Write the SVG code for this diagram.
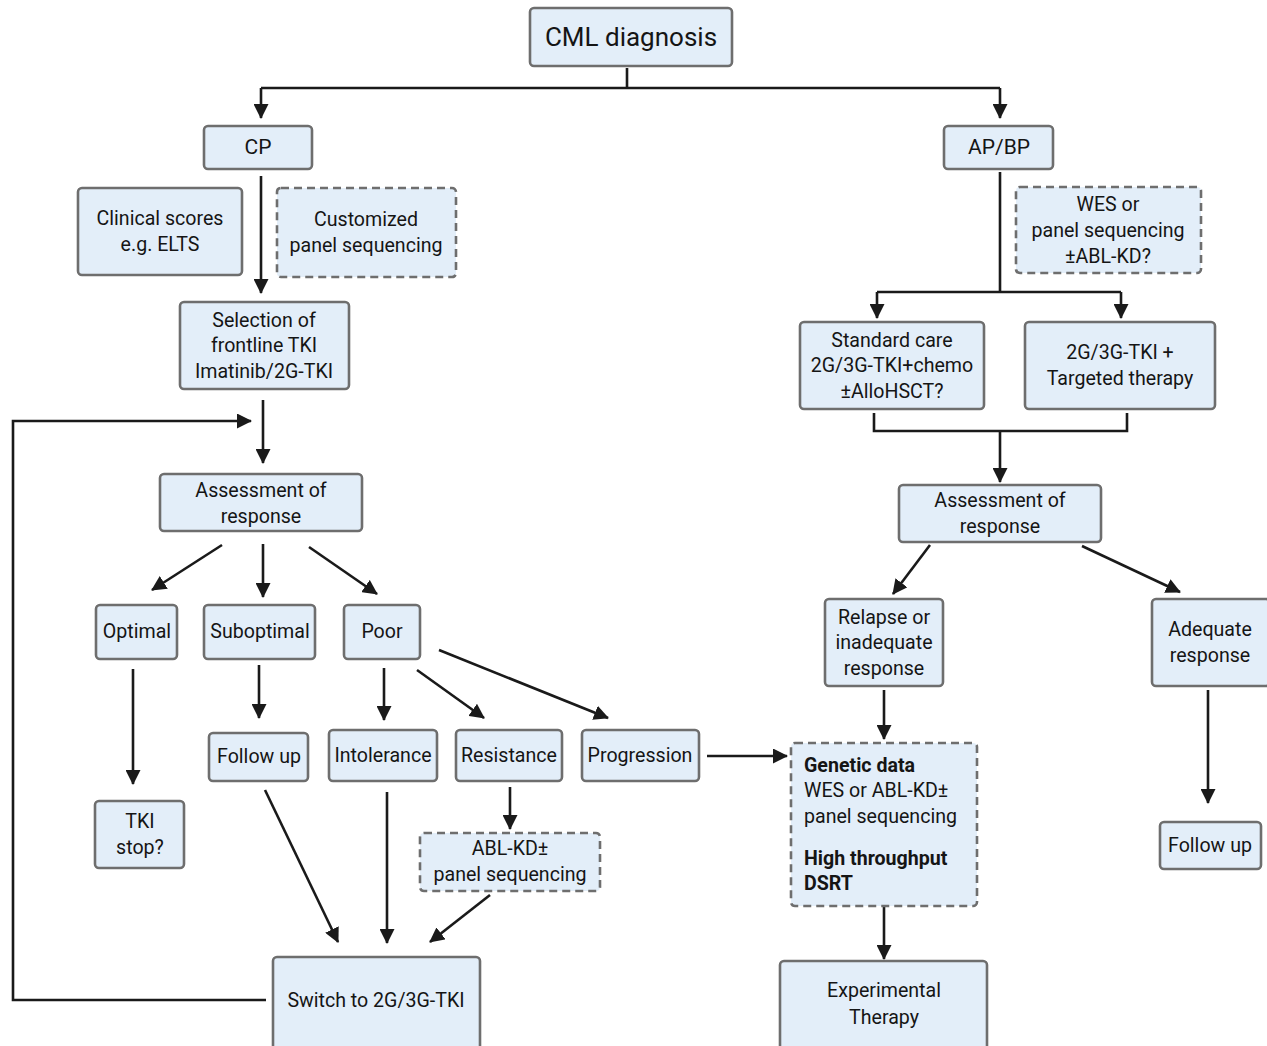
<svg xmlns="http://www.w3.org/2000/svg" width="1267" height="1046" viewBox="0 0 1267 1046">
<defs>
<marker id="ah" markerUnits="userSpaceOnUse" markerWidth="15" markerHeight="15" viewBox="0 0 15 15" refX="14" refY="7.5" orient="auto">
<path d="M0,0 L15,7.5 L0,15 Z" fill="#1a1a1a"/>
</marker>
<style>
.n{fill:#e3eef9;stroke:#6e6e6e;stroke-width:2.6}
.d{fill:#e3eef9;stroke:#6e6e6e;stroke-width:2.6;stroke-dasharray:8 5}
.t{font-family:Roboto,"Liberation Sans",sans-serif;font-size:19.6px;fill:#151515;text-anchor:middle}
.l{font-family:Roboto,"Liberation Sans",sans-serif;font-size:19.6px;fill:#151515}
.b{font-weight:bold}
.c{fill:none;stroke:#1a1a1a;stroke-width:2.6}
.a{fill:none;stroke:#1a1a1a;stroke-width:2.6;marker-end:url(#ah)}
</style>
</defs>
<rect width="1267" height="1046" fill="#ffffff"/>
<g id="connectors">
<path class="c" d="M627,68 V88"/>
<path class="c" d="M261,88 H1000"/>
<path class="a" d="M261,88 V118"/>
<path class="a" d="M1000,88 V118"/>
<path class="a" d="M261,176 V293"/>
<path class="a" d="M263,400 V463"/>
<path class="a" d="M266,1000 H13 V421 H251"/>
<path class="a" d="M222,545 L152,590"/>
<path class="a" d="M263,544 V597"/>
<path class="a" d="M309,547 L377,594"/>
<path class="a" d="M133,669 V784"/>
<path class="a" d="M259,665 V718"/>
<path class="a" d="M384,668 V720"/>
<path class="a" d="M417,670 L484,718"/>
<path class="a" d="M439,650 L608,718"/>
<path class="a" d="M707,756 H787"/>
<path class="a" d="M510,787 V829"/>
<path class="a" d="M265,790 L338,942"/>
<path class="a" d="M387,792 V943"/>
<path class="a" d="M490,895 L430,942"/>
<path class="c" d="M1000,172 V292"/>
<path class="c" d="M877,292 H1121"/>
<path class="a" d="M877,292 V318"/>
<path class="a" d="M1121,292 V318"/>
<path class="c" d="M874,413 V431 H1127 V413"/>
<path class="a" d="M1000,431 V482"/>
<path class="a" d="M930,545 L893,594"/>
<path class="a" d="M1082,546 L1180,592"/>
<path class="a" d="M884,690 V739"/>
<path class="a" d="M884,906 V959"/>
<path class="a" d="M1208,690 V803"/>
</g>
<g id="cml"><rect class="n" x="530" y="8" width="202" height="58" rx="4"/><text class="t" x="631" y="46" style="font-size:26px">CML diagnosis</text></g>
<g id="cp"><rect class="n" x="204" y="126" width="108" height="43" rx="4"/><text class="t" x="258" y="154" style="font-size:21px">CP</text></g>
<g id="apbp"><rect class="n" x="944" y="126" width="109" height="43" rx="4"/><text class="t" x="999" y="154" style="font-size:21px">AP/BP</text></g>
<g id="clinical"><rect class="n" x="78" y="188" width="164" height="87" rx="4"/><text class="t" x="160" y="225">Clinical scores</text><text class="t" x="160" y="251">e.g. ELTS</text></g>
<g id="customized"><rect class="d" x="277" y="188" width="179" height="89" rx="4"/><text class="t" x="366" y="226">Customized</text><text class="t" x="366" y="252">panel sequencing</text></g>
<g id="selection"><rect class="n" x="180" y="302" width="169" height="87" rx="4"/><text class="t" x="264" y="327">Selection of</text><text class="t" x="264" y="352">frontline TKI</text><text class="t" x="264" y="378">Imatinib/2G-TKI</text></g>
<g id="assess-l"><rect class="n" x="160" y="474" width="202" height="57" rx="4"/><text class="t" x="261" y="497">Assessment of</text><text class="t" x="261" y="523">response</text></g>
<g id="optimal"><rect class="n" x="96" y="605" width="81" height="54" rx="4"/><text class="t" x="137" y="638">Optimal</text></g>
<g id="suboptimal"><rect class="n" x="204" y="605" width="111" height="54" rx="4"/><text class="t" x="260" y="638">Suboptimal</text></g>
<g id="poor"><rect class="n" x="344" y="605" width="76" height="54" rx="4"/><text class="t" x="382" y="638">Poor</text></g>
<g id="tkistop"><rect class="n" x="95" y="801" width="89" height="67" rx="4"/><text class="t" x="140" y="828">TKI</text><text class="t" x="140" y="854">stop?</text></g>
<g id="followup-l"><rect class="n" x="209" y="733" width="99" height="48" rx="4"/><text class="t" x="259" y="763">Follow up</text></g>
<g id="intolerance"><rect class="n" x="329" y="730" width="108" height="51" rx="4"/><text class="t" x="383" y="762">Intolerance</text></g>
<g id="resistance"><rect class="n" x="456" y="730" width="106" height="51" rx="4"/><text class="t" x="509" y="762">Resistance</text></g>
<g id="progression"><rect class="n" x="582" y="730" width="117" height="51" rx="4"/><text class="t" x="640" y="762">Progression</text></g>
<g id="ablkd"><rect class="d" x="420" y="833" width="180" height="58" rx="4"/><text class="t" x="510" y="855">ABL-KD±</text><text class="t" x="510" y="881">panel sequencing</text></g>
<g id="switch"><rect class="n" x="273" y="957" width="207" height="95" rx="4"/><text class="t" x="376" y="1007">Switch to 2G/3G-TKI</text></g>
<g id="wes"><rect class="d" x="1016" y="187" width="185" height="86" rx="4"/><text class="t" x="1108" y="211">WES or</text><text class="t" x="1108" y="237">panel sequencing</text><text class="t" x="1108" y="263">±ABL-KD?</text></g>
<g id="standard"><rect class="n" x="800" y="322" width="184" height="87" rx="4"/><text class="t" x="892" y="347">Standard care</text><text class="t" x="892" y="372">2G/3G-TKI+chemo</text><text class="t" x="892" y="398">±AlloHSCT?</text></g>
<g id="targeted"><rect class="n" x="1025" y="322" width="190" height="87" rx="4"/><text class="t" x="1120" y="359">2G/3G-TKI +</text><text class="t" x="1120" y="385">Targeted therapy</text></g>
<g id="assess-r"><rect class="n" x="899" y="485" width="202" height="57" rx="4"/><text class="t" x="1000" y="507">Assessment of</text><text class="t" x="1000" y="533">response</text></g>
<g id="relapse"><rect class="n" x="825" y="599" width="118" height="87" rx="4"/><text class="t" x="884" y="624">Relapse or</text><text class="t" x="884" y="649">inadequate</text><text class="t" x="884" y="675">response</text></g>
<g id="adequate"><rect class="n" x="1152" y="599" width="118" height="87" rx="4"/><text class="t" x="1210" y="636">Adequate</text><text class="t" x="1210" y="662">response</text></g>
<g id="genetic"><rect class="d" x="791" y="743" width="186" height="163" rx="4"/><text class="l b" x="804" y="772">Genetic data</text><text class="l" x="804" y="797">WES or ABL-KD±</text><text class="l" x="804" y="823">panel sequencing</text><text class="l b" x="804" y="865">High throughput</text><text class="l b" x="804" y="890">DSRT</text></g>
<g id="followup-r"><rect class="n" x="1160" y="822" width="101" height="47" rx="4"/><text class="t" x="1210" y="852">Follow up</text></g>
<g id="experimental"><rect class="n" x="780" y="961" width="207" height="90" rx="4"/><text class="t" x="884" y="997">Experimental</text><text class="t" x="884" y="1024">Therapy</text></g>
</svg>
